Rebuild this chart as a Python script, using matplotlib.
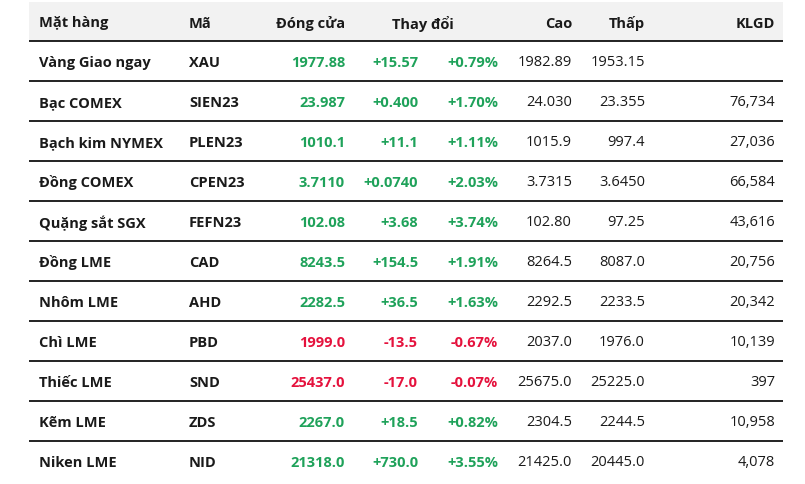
import matplotlib.pyplot as plt

plt.rcParams["font.family"] = ["Open Sans", "DejaVu Sans"]

# ---------------------------------------------------------------------------
# Data
# ---------------------------------------------------------------------------
headers = ["Mặt hàng", "Mã", "Đóng cửa", "Thay đổi", "Cao", "Thấp", "KLGD"]
names = ["Vàng Giao ngay", "Bạc COMEX", "Bạch kim NYMEX", "Đồng COMEX",
         "Quặng sắt SGX", "Đồng LME", "Nhôm LME", "Chì LME", "Thiếc LME",
         "Kẽm LME", "Niken LME"]
codes = ["XAU", "SIEN23", "PLEN23", "CPEN23", "FEFN23", "CAD", "AHD",
         "PBD", "SND", "ZDS", "NID"]
close = ["1977.88", "23.987", "1010.1", "3.7110", "102.08", "8243.5",
         "2282.5", "1999.0", "25437.0", "2267.0", "21318.0"]
change = ["+15.57", "+0.400", "+11.1", "+0.0740", "+3.68", "+154.5",
          "+36.5", "-13.5", "-17.0", "+18.5", "+730.0"]
pct = ["+0.79%", "+1.70%", "+1.11%", "+2.03%", "+3.74%", "+1.91%",
       "+1.63%", "-0.67%", "-0.07%", "+0.82%", "+3.55%"]
high = ["1982.89", "24.030", "1015.9", "3.7315", "102.80", "8264.5",
        "2292.5", "2037.0", "25675.0", "2304.5", "21425.0"]
low = ["1953.15", "23.355", "997.4", "3.6450", "97.25", "8087.0",
       "2233.5", "1976.0", "25225.0", "2244.5", "20445.0"]
volume = ["", "76,734", "27,036", "66,584", "43,616", "20,756", "20,342",
          "10,139", "397", "10,958", "4,078"]

GREEN = "#1fa25a"
RED = "#e5123d"
TEXT = "#1a1a1a"
FS = 10.5

W, H = 805, 485
fig = plt.figure(figsize=(W / 100, H / 100), dpi=100)
ax = fig.add_axes([0, 0, 1, 1])
ax.set_xlim(0, W)
ax.set_ylim(H, 0)
ax.axis("off")

left, right = 29, 783
head_top, head_bot = 3, 42
row_h = 40

# header band
ax.add_patch(plt.Rectangle((left, head_top), right - left, head_bot - head_top,
                           color="#f2f2f2", lw=0, zorder=0))
hy = (head_top + head_bot) / 2 + 1
hdr_pos = [(39, "left"), (189, "left"), (345, "right"), (423, "center"),
           (572, "right"), (645, "right"), (775, "right")]
for h, (x, ha) in zip(headers, hdr_pos):
    ax.text(x, hy, h, ha=ha, va="center", fontsize=FS, fontweight="bold",
            color=TEXT)

ax.hlines(head_bot, left, right, color="#111111", lw=1.3)

for i in range(len(names)):
    y = head_bot + row_h * i + row_h / 2 + 1
    col = RED if change[i].startswith("-") else GREEN
    ax.text(39, y, names[i], ha="left", va="center", fontsize=FS,
            fontweight="bold", color=TEXT)
    ax.text(189, y, codes[i], ha="left", va="center", fontsize=FS,
            fontweight="bold", color=TEXT)
    ax.text(345, y, close[i], ha="right", va="center", fontsize=FS,
            fontweight="bold", color=col)
    ax.text(418, y, change[i], ha="right", va="center", fontsize=FS,
            fontweight="bold", color=col)
    ax.text(498, y, pct[i], ha="right", va="center", fontsize=FS,
            fontweight="bold", color=col)
    ax.text(572, y, high[i], ha="right", va="center", fontsize=FS,
            color=TEXT)
    ax.text(645, y, low[i], ha="right", va="center", fontsize=FS,
            color=TEXT)
    ax.text(775, y, volume[i], ha="right", va="center", fontsize=FS,
            color=TEXT)
    if i < len(names) - 1:
        ax.hlines(head_bot + row_h * (i + 1), left, right, color="#111111",
                  lw=1.3)

fig.savefig("out.png", dpi=100)
